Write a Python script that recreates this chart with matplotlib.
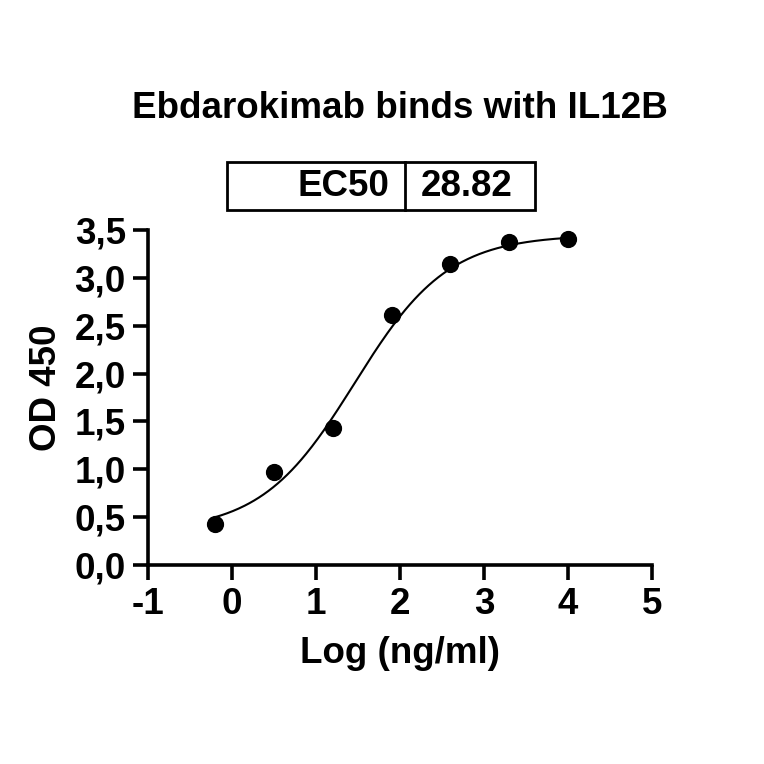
import numpy as np
import matplotlib
matplotlib.use('Agg')
import matplotlib.pyplot as plt
from matplotlib.patches import Rectangle

plt.rcParams['font.family'] = ['Liberation Sans', 'DejaVu Sans']
plt.rcParams['font.weight'] = 'bold'

# data
log_conc = [-0.2, 0.5, 1.2, 1.9, 2.6, 3.3, 4.0]
od450 = [0.43, 0.97, 1.43, 2.61, 3.15, 3.37, 3.41]

# 4PL fit parameters (EC50 = 28.82 ng/ml)
bottom, top, hill = 0.35, 3.45, 0.78
ec50 = 28.82

xticks = [-1, 0, 1, 2, 3, 4, 5]
xtick_labels = ['-1', '0', '1', '2', '3', '4', '5']
yticks = [0, 0.5, 1.0, 1.5, 2.0, 2.5, 3.0, 3.5]
ytick_labels = ['0,0', '0,5', '1,0', '1,5', '2,0', '2,5', '3,0', '3,5']

FS = 26.5

fig = plt.figure(figsize=(7.64, 7.64), dpi=100)
ax = fig.add_axes([148/764, 1-565/764, 504/764, 335/764])

xf = np.linspace(min(log_conc), max(log_conc), 300)
yf = bottom + (top - bottom) / (1 + 10**((np.log10(ec50) - xf) * hill))
ax.plot(xf, yf, color='black', lw=1.5, zorder=2)
ax.scatter(log_conc, od450, s=130, color='black', zorder=3, clip_on=False)

ax.set_xlim(-1, 5)
ax.set_ylim(0, 3.5)
ax.set_xticks(xticks)
ax.set_xticklabels(xtick_labels)
ax.set_yticks(yticks)
ax.set_yticklabels(ytick_labels)
for s in ['top', 'right']:
    ax.spines[s].set_visible(False)
for s in ['left', 'bottom']:
    ax.spines[s].set_linewidth(2.6)
ax.tick_params(length=11, width=2.6, labelsize=FS, pad=5)

ax.set_xlabel('Log (ng/ml)', fontsize=FS, fontweight='bold', labelpad=10)
ax.set_ylabel('OD 450', fontsize=FS, fontweight='bold', va='center')
ax.yaxis.set_label_coords(-0.202, 0.528)

fig.text(400/764, 1-108/764, 'Ebdarokimab binds with IL12B', fontsize=FS,
         fontweight='bold', ha='center', va='center')

# EC50 table box
fig.patches.append(Rectangle((227/764, 1-210/764), 308/764, 48/764,
                             transform=fig.transFigure, fill=False,
                             edgecolor='black', lw=2))
fig.lines.append(plt.Line2D([405/764, 405/764], [1-210/764, 1-162/764],
                            transform=fig.transFigure, color='black', lw=2))
fig.text(389/764, 1-186/764, 'EC50', fontsize=FS, fontweight='bold',
         ha='right', va='center')
fig.text(421/764, 1-186/764, f'{ec50:.2f}', fontsize=FS, fontweight='bold',
         ha='left', va='center')

fig.savefig('out.png', dpi=100)
